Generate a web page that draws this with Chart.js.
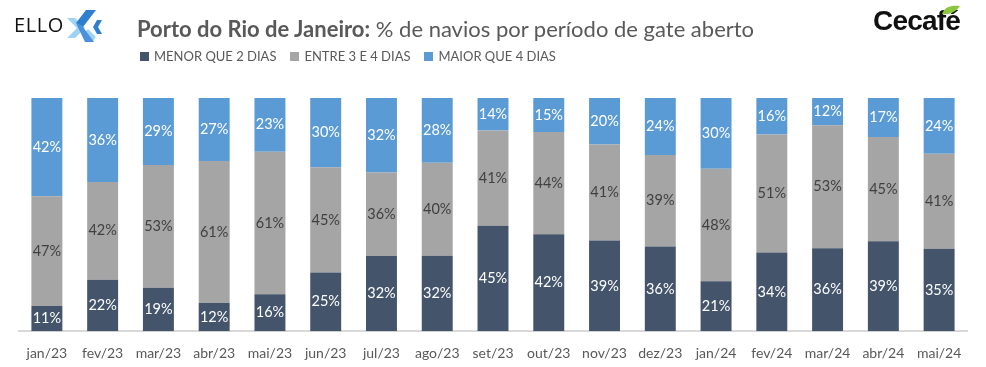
<!DOCTYPE html>
<html><head><meta charset="utf-8">
<script src="https://cdn.jsdelivr.net/npm/chart.js@4.4.0/dist/chart.umd.min.js"></script>
<style>
html,body{margin:0;padding:0;background:#fff;width:986px;height:367px;overflow:hidden;font-family:Lato,'Open Sans',sans-serif;}
#wrap{position:relative;width:986px;height:367px;}
#c{position:absolute;left:0;top:0;}
#title{position:absolute;left:137px;top:18px;font-size:22px;color:#595959;white-space:nowrap;line-height:1;}
#title b{font-weight:700;}
#legend{position:absolute;left:140px;top:50px;font-size:13px;color:#595959;white-space:nowrap;line-height:1;}
#legend span.it{display:inline-block;margin-right:14px;}
#legend i{display:inline-block;width:9px;height:9px;margin-right:5px;vertical-align:0px;}
#ello{position:absolute;left:14px;top:15px;font-size:20px;color:#111;letter-spacing:0.6px;line-height:1;font-family:'Open Sans',sans-serif;}
#ellox{position:absolute;left:66px;top:9px;}
#cecafe{position:absolute;left:873px;top:7px;font-size:28px;font-weight:900;color:#111;letter-spacing:-0.8px;line-height:1;font-family:'Liberation Sans',Arial,sans-serif;}
#leaf{position:absolute;left:940px;top:4px;}
</style></head>
<body><div id="wrap">
<canvas id="c" width="986" height="367"></canvas>
<div id="ello">ELLO</div>
<svg id="ellox" width="40" height="34" viewBox="0 0 40 34">
 <polygon points="1,9 9,9 19,19 9,29 1,29 11,19" fill="#9fd3f2"/>
 <polygon points="22,20 30,28 26,33 16,26" fill="#9fd3f2"/>
 <polygon points="20,1 30,1 17,18 10,14" fill="#2e7fd0"/>
 <polygon points="10,14 17,18 28,33 19,33" fill="#4a90dc"/>
 <polygon points="31,11 36,11 32,18 36,25 31,25 27,18" fill="#2e7fd0"/>
</svg>
<div id="cecafe">Cecafé</div>
<svg id="leaf" width="22" height="12" viewBox="0 0 22 12"><path d="M2,10 C5,2 12,1 20,2 C16,8 9,11 2,10 Z" fill="#8cc63f"/></svg>
<div id="title"><b>Porto do Rio de Janeiro:</b> % de navios por período de gate aberto</div>
<div id="legend"><span class="it"><i style="background:#44546a"></i>MENOR QUE 2 DIAS</span><span class="it"><i style="background:#a5a5a5"></i>ENTRE 3 E 4 DIAS</span><span class="it"><i style="background:#5b9bd5"></i>MAIOR QUE 4 DIAS</span></div>
</div>
<script>
const categories = ['jan/23','fev/23','mar/23','abr/23','mai/23','jun/23','jul/23','ago/23','set/23','out/23','nov/23','dez/23','jan/24','fev/24','mar/24','abr/24','mai/24'];
const menorQue2Dias = [10.8,22.1,18.6,12.1,15.8,25.2,32.3,32.4,45.2,41.6,38.9,36.3,21.4,33.7,35.6,38.6,35.4];
const entre3e4Dias  = [47.1,41.9,52.7,60.9,61.2,45.1,35.8,39.8,40.9,43.8,41.2,39.3,48.3,50.7,52.7,44.7,40.7];
const maiorQue4Dias = [42.1,36.0,28.7,27.0,23.0,29.7,31.9,27.8,13.9,14.6,19.9,24.4,30.3,15.6,11.7,16.7,23.9];
const seriesNames = ['MENOR QUE 2 DIAS','ENTRE 3 E 4 DIAS','MAIOR QUE 4 DIAS'];

const labelColors = ['#ffffff','#404040','#ffffff'];
const barLabels = {
  id:'barLabels',
  afterDatasetsDraw(chart){
    const ctx = chart.ctx;
    ctx.save();
    ctx.font = '14.5px Lato, sans-serif';
    ctx.textAlign = 'center';
    ctx.textBaseline = 'middle';
    chart.data.datasets.forEach((ds,i)=>{
      const meta = chart.getDatasetMeta(i);
      ctx.fillStyle = labelColors[i];
      meta.data.forEach((el,j)=>{
        const v = ds.data[j];
        ctx.fillText(Math.round(v)+'%', el.x, (el.y+el.base)/2);
      });
    });
    ctx.restore();
  }
};

new Chart(document.getElementById('c'), {
  type:'bar',
  data:{
    labels:categories,
    datasets:[
      {label:seriesNames[0], data:menorQue2Dias, backgroundColor:'#44546a'},
      {label:seriesNames[1], data:entre3e4Dias, backgroundColor:'#a5a5a5'},
      {label:seriesNames[2], data:maiorQue4Dias, backgroundColor:'#5b9bd5'}
    ]
  },
  options:{
    responsive:false,
    animation:false,
    layout:{padding:{left:19,right:19,top:98,bottom:-9}},
    datasets:{bar:{categoryPercentage:1, barPercentage:0.555, borderWidth:0}},
    plugins:{legend:{display:false}, tooltip:{enabled:false}, title:{display:false}},
    scales:{
      x:{stacked:true, grid:{display:false, drawTicks:false}, border:{display:true,color:'#d9d9d9',width:2},
         ticks:{color:'#595959', font:{family:'Lato', size:14}, padding:14}},
      y:{stacked:true, display:false, min:0, max:100}
    }
  },
  plugins:[barLabels]
});
</script>
</body></html>
